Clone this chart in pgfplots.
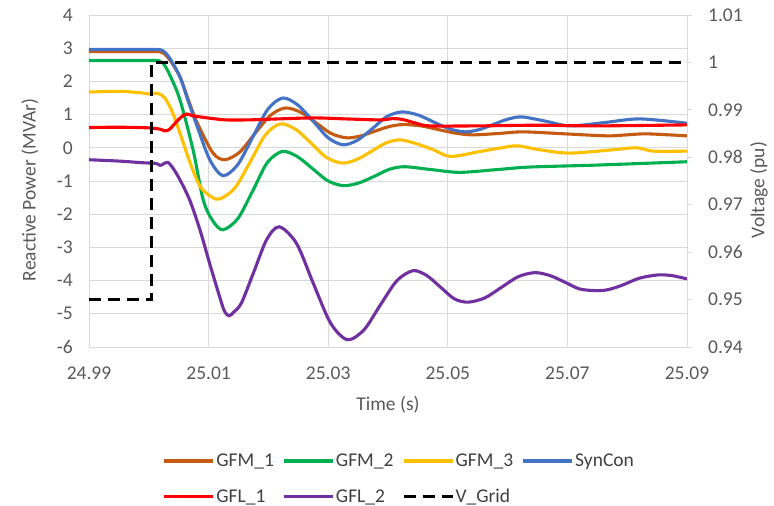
\documentclass[border=0pt]{standalone}
\usepackage{fontspec}
\setmainfont{Carlito}
\usepackage{pgfplots}
\pgfplotsset{compat=1.18}
\definecolor{gridgray}{HTML}{D9D9D9}
\definecolor{labelgray}{HTML}{595959}
\definecolor{gfmone}{HTML}{C55A11}
\definecolor{gfmtwo}{HTML}{00B050}
\definecolor{gfmthree}{HTML}{FFC000}
\definecolor{syncon}{HTML}{4472C4}
\definecolor{gflone}{HTML}{FF0000}
\definecolor{gfltwo}{HTML}{7030A0}
\begin{document}
\begin{tikzpicture}
\pgfplotsset{
  every tick label/.append style={font=\fontsize{19.5}{23}\selectfont, text=labelgray},
  every axis label/.append style={font=\fontsize{19.5}{23}\selectfont, text=labelgray},
}
\begin{axis}[
  width=598pt, height=332pt, scale only axis,
  xmin=24.99, xmax=25.09, ymin=-6, ymax=4,
  xtick={24.99,25.01,25.03,25.05,25.07,25.09},
  xticklabels={24.99,25.01,25.03,25.05,25.07,25.09},
  ytick={-6,-5,-4,-3,-2,-1,0,1,2,3,4},
  yticklabels={-6,-5,-4,-3,-2,-1,0,1,2,3,4},
  grid=major, major grid style={draw=gridgray, line width=0.9pt},
  axis line style={draw=gridgray, line width=0.9pt},
  tick style={draw=none},
  yticklabel style={inner sep=0pt, anchor=east, xshift=-16pt},
  xticklabel style={inner sep=0pt, anchor=north, yshift=-20pt},
  xlabel={Time (s)},
  xlabel style={at={(axis description cs:0.5,-0.175)}, anchor=center},
  ylabel={Reactive Power (MVAr)},
  ylabel style={at={(axis description cs:-0.099,0.473)}, anchor=center},
  every axis plot/.append style={line width=3.1pt, smooth, no markers},
]
\coordinate (bl) at (rel axis cs:0,0);
\coordinate (tr) at (rel axis cs:1,1);
% GFM_1
\addplot[gfmone] coordinates {
(24.99,2.90) (25.0,2.90) (25.0017,2.90) (25.0024,2.86) (25.0035,2.65) (25.0052,2.14)
(25.0066,1.45) (25.0081,0.75) (25.0107,-0.15) (25.0127,-0.36)
(25.0152,-0.13) (25.0177,0.42) (25.0203,0.97) (25.0228,1.20)
(25.0254,1.07) (25.0280,0.75) (25.0305,0.43) (25.0331,0.30)
(25.0355,0.36) (25.0378,0.50) (25.0402,0.64) (25.0425,0.70)
(25.0455,0.66) (25.0484,0.55) (25.0513,0.44) (25.0542,0.39)
(25.0584,0.43) (25.0626,0.48) (25.0696,0.42) (25.0766,0.36)
(25.0800,0.39) (25.0833,0.42) (25.0900,0.36)};
% GFM_2
\addplot[gfmtwo] coordinates {
(24.99,2.63) (25.0,2.63) (25.0017,2.62) (25.0024,2.55) (25.0035,2.20) (25.0052,1.45)
(25.0074,-0.06) (25.0091,-1.57) (25.0107,-2.20) (25.0124,-2.47)
(25.0149,-2.13) (25.0174,-1.29) (25.0198,-0.45) (25.0223,-0.11)
(25.0248,-0.26) (25.0274,-0.63) (25.0299,-0.99) (25.0325,-1.14)
(25.0351,-1.06) (25.0377,-0.86) (25.0402,-0.65) (25.0428,-0.57)
(25.0474,-0.66) (25.0520,-0.74) (25.0580,-0.66) (25.0637,-0.58)
(25.0750,-0.52) (25.0900,-0.42)};
% GFM_3
\addplot[gfmthree] coordinates {
(24.99,1.68) (24.995,1.70) (24.9985,1.66) (25.0,1.62) (25.0015,1.64) (25.0027,1.50)
(25.0040,1.05) (25.0052,0.45) (25.0069,-0.45) (25.0086,-1.17) (25.0105,-1.48) (25.0119,-1.54)
(25.0144,-1.21) (25.0170,-0.41) (25.0195,0.39) (25.0220,0.72)
(25.0246,0.55) (25.0272,0.13) (25.0297,-0.29) (25.0323,-0.46)
(25.0347,-0.36) (25.0372,-0.11) (25.0396,0.14) (25.0420,0.24)
(25.0448,0.12) (25.0476,-0.06) (25.0505,-0.26) (25.0554,-0.11)
(25.0590,0.00) (25.0616,0.06) (25.0654,-0.06) (25.0704,-0.16)
(25.0776,-0.06) (25.0816,0.00) (25.0843,-0.10) (25.0900,-0.10)};
% SynCon
\addplot[syncon] coordinates {
(24.99,2.96) (25.0,2.96) (25.0015,2.96) (25.0024,2.92) (25.0035,2.70) (25.0052,2.14)
(25.0066,1.40) (25.0081,0.64) (25.0102,-0.36) (25.0124,-0.84)
(25.0149,-0.50) (25.0174,0.33) (25.0199,1.16) (25.0224,1.50)
(25.0249,1.29) (25.0275,0.80) (25.0300,0.30) (25.0325,0.09)
(25.0349,0.23) (25.0374,0.58) (25.0398,0.94) (25.0423,1.08)
(25.0450,0.99) (25.0476,0.78) (25.0503,0.57) (25.0529,0.48)
(25.0553,0.55) (25.0577,0.71) (25.0600,0.86) (25.0624,0.93)
(25.0664,0.80) (25.0704,0.66) (25.0762,0.76) (25.0821,0.87) (25.0900,0.74)};
% GFL_1
\addplot[gflone] coordinates {
(24.99,0.61) (24.995,0.62) (25.0,0.60) (25.0019,0.56) (25.0027,0.51) (25.0035,0.56)
(25.0048,0.82) (25.0058,0.98) (25.0064,1.02) (25.0075,0.96) (25.0107,0.88)
(25.0130,0.84) (25.0164,0.84) (25.0200,0.86) (25.0275,0.90) (25.0330,0.87)
(25.0387,0.84) (25.0408,0.88) (25.0425,0.85) (25.0447,0.74) (25.0470,0.66)
(25.0550,0.66) (25.0650,0.68) (25.0750,0.66) (25.0900,0.69)};
% GFL_2
\addplot[gfltwo] coordinates {
(24.99,-0.36) (24.995,-0.40) (24.999,-0.45) (25.0012,-0.47) (25.0019,-0.53) (25.0025,-0.48)
(25.0032,-0.44) (25.0040,-0.60) (25.0052,-0.96) (25.0069,-1.60) (25.0086,-2.50)
(25.0102,-3.50) (25.0117,-4.40) (25.0126,-4.90) (25.0134,-5.06) (25.0142,-4.95)
(25.0155,-4.67) (25.0176,-3.72) (25.0197,-2.77) (25.0218,-2.38)
(25.0247,-2.88) (25.0275,-4.08) (25.0304,-5.28) (25.0332,-5.78)
(25.0360,-5.48) (25.0387,-4.74) (25.0415,-4.00) (25.0442,-3.70)
(25.0465,-3.85) (25.0488,-4.20) (25.0511,-4.55) (25.0534,-4.65)
(25.0562,-4.52) (25.0590,-4.20) (25.0618,-3.88) (25.0646,-3.76)
(25.0671,-3.85) (25.0696,-4.05) (25.0720,-4.25) (25.0745,-4.30) (25.0766,-4.28)
(25.0790,-4.15) (25.0820,-3.93) (25.0851,-3.83) (25.0875,-3.85) (25.0900,-3.95)};
\end{axis}
\begin{axis}[
  width=598pt, height=332pt, scale only axis,
  xmin=24.99, xmax=25.09, ymin=0.94, ymax=1.01,
  axis x line=none, axis y line*=right,
  ytick={0.94,0.95,0.96,0.97,0.98,0.99,1.0,1.01},
  yticklabels={0.94,0.95,0.96,0.97,0.98,0.99,1,1.01},
  axis line style={draw=gridgray, line width=0.9pt},
  ytick style={draw=gridgray, line width=0.9pt},
  tick align=outside, major tick length=5pt,
  yticklabel style={inner sep=0pt, anchor=west, xshift=16pt},
  ylabel={Voltage (pu)},
  ylabel style={at={(axis description cs:1.1204,0.473)}, anchor=center, rotate=0},
  legend columns=4,
  legend cell align=left,
  legend style={draw=none, fill=none, at={(axis description cs:0.118,-0.311)}, anchor=north west,
    font=\fontsize{19.5}{23}\selectfont, text=black!75, row sep=18pt,
    nodes={inner sep=1.5pt},
    /tikz/every odd column/.append style={column sep=0pt},
    /tikz/every even column/.append style={column sep=7pt}},
  legend image code/.code={\draw[#1] (0pt,0pt) -- (49pt,0pt);},
]
\addlegendimage{gfmone, line width=3.1pt}
\addlegendentry{GFM\_1}
\addlegendimage{gfmtwo, line width=3.1pt}
\addlegendentry{GFM\_2}
\addlegendimage{gfmthree, line width=3.1pt}
\addlegendentry{GFM\_3}
\addlegendimage{syncon, line width=3.1pt}
\addlegendentry{SynCon}
\addlegendimage{gflone, line width=3.1pt}
\addlegendentry{GFL\_1}
\addlegendimage{gfltwo, line width=3.1pt}
\addlegendentry{GFL\_2}
\addplot[black, line width=3.1pt, dash pattern=on 12pt off 7pt, line cap=butt, no markers] coordinates {
(24.99,0.95) (25.0005,0.95) (25.0005,1.0) (25.09,1.0)};
\addlegendentry{V\_Grid}
\end{axis}
\pgfresetboundingbox
\path ([shift={(-89pt,-159pt)}]bl) rectangle ([shift={(87pt,15pt)}]tr);
\end{tikzpicture}
\end{document}
